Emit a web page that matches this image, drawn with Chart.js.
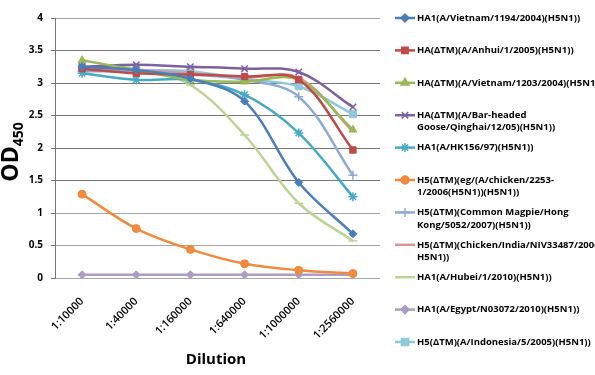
<!DOCTYPE html>
<html>
<head>
<meta charset="utf-8">
<script src="https://cdn.jsdelivr.net/npm/chart.js@4.4.1/dist/chart.umd.min.js"></script>
<style>
  html, body { margin: 0; padding: 0; background: #fff; }
  #wrap { width: 595px; height: 375px; }
</style>
</head>
<body>
<div id="wrap"><canvas id="odChart" width="595" height="375"></canvas></div>
<script>
// dilution categories
const dilutions = ['1:10000', '1:40000', '1:160000', '1:640000', '1:1000000', '1:2560000'];

// series values (OD450)
const vietnam1194 = [3.25, 3.20, 3.07, 2.72, 1.47, 0.68];
const anhui = [3.22, 3.15, 3.13, 3.10, 3.05, 1.97];
const vietnam1203 = [3.35, 3.20, 3.05, 3.02, 3.05, 2.28];
const barHeaded = [3.25, 3.28, 3.25, 3.22, 3.17, 2.63];
const hk156 = [3.15, 3.05, 3.05, 2.82, 2.23, 1.25];
const chicken2253 = [1.29, 0.76, 0.44, 0.22, 0.12, 0.07];
const magpie = [3.18, 3.18, 3.13, 3.05, 2.79, 1.58];
const chickenIndia = [3.22, 3.20, 3.15, 3.08, 3.08, 2.25];
const hubei = [3.25, 3.22, 2.97, 2.20, 1.15, 0.57];
const egypt = [0.05, 0.05, 0.05, 0.05, 0.05, 0.05];
const indonesia = [3.25, 3.20, 3.18, 3.06, 2.95, 2.52];

const seriesNames = [
    ['HA1(A/Vietnam/1194/2004)(H5N1))'],
    ['HA(\u0394TM)(A/Anhui/1/2005)(H5N1))'],
    ['HA(\u0394TM)(A/Vietnam/1203/2004)(H5N1))'],
    ['HA(\u0394TM)(A/Bar-headed', 'Goose/Qinghai/12/05)(H5N1))'],
    ['HA1(A/HK156/97)(H5N1))'],
    ['H5(\u0394TM)(eg/(A/chicken/2253-', '1/2006(H5N1))(H5N1))'],
    ['H5(\u0394TM)(Common Magpie/Hong', 'Kong/5052/2007)(H5N1))'],
    ['H5(\u0394TM)(Chicken/India/NIV33487/2006', 'H5N1))'],
    ['HA1(A/Hubei/1/2010)(H5N1))'],
    ['HA1(A/Egypt/N03072/2010)(H5N1))'],
    ['H5(\u0394TM)(A/Indonesia/5/2005)(H5N1))']
];
const seriesValues = [vietnam1194, anhui, vietnam1203, barHeaded, hk156, chicken2253,
    magpie, chickenIndia, hubei, egypt, indonesia];

const colors = ['#4a7ebb', '#be4b48', '#98b954', '#7d60a0', '#46aac5', '#f08a3e',
    '#8fa9d4', '#d99694', '#bcd394', '#ab9dc4', '#8fc8da'];
const markers = ['rectRot', 'rect', 'triangle', 'crossRot', 'star', 'circle',
    'cross', false, 'line', 'rectRot', 'rect'];
const markerSizes = [4, 4.5, 4.5, 4.5, 4.5, 4, 4.5, 0, 4.5, 4, 5];

// gridline colours by tick index (0 .. 4 in steps of 0.5)
const gridColors = ['#a6a6a6', '#a6a6a6', '#a6a6a6', '#767676', '#767676', '#767676', '#767676', '#767676', '#a6a6a6'];

const FONT = '"Open Sans", "DejaVu Sans", sans-serif';

const datasets = seriesValues.map((vals, i) => ({
    label: seriesNames[i].join(' '),
    data: vals,
    borderColor: colors[i],
    backgroundColor: colors[i],
    borderWidth: 2.5,
    pointStyle: markers[i],
    pointRadius: markerSizes[i],
    pointBorderWidth: ['crossRot', 'star', 'cross', 'line'].includes(markers[i]) ? 1.5 : 1,
    tension: 0.35,
    fill: false
}));

// axis titles and legend drawn on canvas
const customDraw = {
    id: 'customDraw',
    afterDraw(chart) {
        const ctx = chart.ctx;
        ctx.save();
        // y title OD450 with subscript
        ctx.fillStyle = '#000';
        ctx.translate(10, 152);
        ctx.rotate(-Math.PI / 2);
        ctx.font = 'bold 23px ' + FONT;
        const odW = ctx.measureText('OD').width;
        ctx.font = 'bold 14px ' + FONT;
        const subW = ctx.measureText('450').width;
        const x0 = -(odW + subW) / 2;
        ctx.textBaseline = 'alphabetic';
        ctx.textAlign = 'left';
        ctx.font = 'bold 23px ' + FONT;
        ctx.fillText('OD', x0, 8);
        ctx.font = 'bold 14px ' + FONT;
        ctx.fillText('450', x0 + odW, 13);
        ctx.restore();

        ctx.save();
        ctx.fillStyle = '#000';
        ctx.font = 'bold 15px ' + FONT;
        ctx.textAlign = 'center';
        ctx.textBaseline = 'middle';
        ctx.fillText('Dilution', 216, 360);
        ctx.restore();

        // legend: spread the text so the first entry is about 162px wide
        ctx.save();
        ctx.font = 'bold 9.5px ' + FONT;
        ctx.letterSpacing = '0px';
        const first = seriesNames[0][0];
        const baseW = ctx.measureText(first).width;
        const spacing = Math.max(0, (162 - baseW) / first.length);
        ctx.letterSpacing = spacing.toFixed(2) + 'px';
        ctx.textBaseline = 'middle';
        ctx.textAlign = 'left';
        seriesNames.forEach((lines, i) => {
            const y = 18 + i * 32.4;
            ctx.strokeStyle = colors[i];
            ctx.lineWidth = 2.5;
            ctx.beginPath();
            ctx.moveTo(395, y);
            ctx.lineTo(415, y);
            ctx.stroke();
            if (markers[i]) {
                ctx.fillStyle = colors[i];
                ctx.strokeStyle = colors[i];
                ctx.lineWidth = 1.5;
                Chart.helpers.drawPoint(ctx, {
                    pointStyle: markers[i],
                    radius: markerSizes[i],
                    rotation: 0,
                    borderWidth: 1.5
                }, 405, y);
            }
            ctx.fillStyle = '#000';
            lines.forEach((t, j) => ctx.fillText(t, 417, y + j * 12.5));
        });
        ctx.restore();
    }
};

new Chart(document.getElementById('odChart').getContext('2d'), {
    type: 'line',
    data: { labels: dilutions, datasets: datasets },
    options: {
        responsive: false,
        animation: false,
        layout: { padding: { top: 18, right: 215, bottom: 0, left: 0 } },
        plugins: {
            legend: { display: false },
            tooltip: { enabled: false }
        },
        scales: {
            x: {
                offset: true,
                grid: { display: false, drawTicks: false },
                border: { display: false },
                ticks: {
                    color: '#000',
                    font: { family: FONT, size: 11, weight: '600' },
                    maxRotation: 45,
                    minRotation: 45,
                    padding: 17
                },
                afterFit: scale => { scale.height = 97; }
            },
            y: {
                min: 0,
                max: 4,
                grid: {
                    display: true,
                    color: ctx => gridColors[ctx.index] || '#767676',
                    lineWidth: 1,
                    tickLength: 4,
                    tickColor: '#767676'
                },
                border: { display: true, color: '#767676', width: 1 },
                ticks: {
                    stepSize: 0.5,
                    color: '#000',
                    font: { family: FONT, size: 10, weight: 'bold' },
                    padding: 8,
                    callback: v => String(v)
                },
                afterFit: scale => { scale.width = 55; }
            }
        }
    },
    plugins: [customDraw]
});
</script>
</body>
</html>
